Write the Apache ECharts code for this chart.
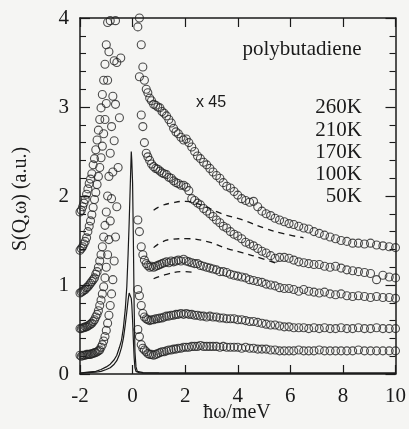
<!DOCTYPE html>
<html>
<head>
<meta charset="utf-8">
<script src="https://cdn.jsdelivr.net/npm/echarts@6/dist/echarts.min.js"></script>
<style>
html,body{margin:0;padding:0;background:#f5f5f3;}
#chart{width:409px;height:429px;}
</style>
</head>
<body>
<div id="chart"></div>
<script>
// energy transfer grids (meV)
var energyLoss = [-2.00,-1.95,-1.90,-1.85,-1.80,-1.75,-1.70,-1.65,-1.60,-1.55,-1.50,-1.45,-1.40,-1.35,-1.30,-1.25,-1.20,-1.15,-1.10,-1.05,-1.00,-0.95,-0.90,-0.85,-0.80,-0.75,-0.70,-0.65,-0.60,-0.55,-0.50,-0.45];
var energyGain = [0.20,0.26,0.33,0.39,0.45,0.52,0.58,0.65,0.72,0.80,0.88,0.96,1.04,1.12,1.20,1.29,1.38,1.47,1.56,1.65,1.74,1.84,1.94,2.04,2.14,2.25,2.36,2.47,2.58,2.70,2.82,2.94,3.06,3.19,3.32,3.45,3.58,3.72,3.86,4.00,4.15,4.30,4.45,4.60,4.76,4.92,5.08,5.25,5.42,5.59,5.77,5.95,6.13,6.32,6.51,6.70,6.90,7.10,7.30,7.51,7.72,7.93,8.15,8.37,8.59,8.82,9.05,9.28,9.52,9.76,10.00];

// S(Q,w) x45, negative-energy side
var t260Loss = [1.82,1.84,1.88,1.92,1.96,2.02,2.08,2.14,2.19,2.25,2.35,2.42,2.52,2.63,2.74,2.86,2.99,3.14,3.30,3.48,3.70,3.95,4.25,4.60,5.00,5.50,6.00,6.60,7.30,8.00,8.80,9.60];
var t210Loss = [1.39,1.41,1.43,1.46,1.49,1.53,1.60,1.66,1.72,1.79,1.87,1.96,2.04,2.13,2.22,2.32,2.43,2.56,2.70,2.86,3.04,3.30,3.62,3.97,4.40,4.90,5.40,6.00,6.60,7.30,8.00,8.80];
var t170Loss = [0.91,0.92,0.93,0.94,0.95,0.97,0.98,1.00,1.02,1.04,1.06,1.08,1.12,1.15,1.20,1.27,1.34,1.43,1.54,1.67,1.82,2.00,2.22,2.48,2.78,3.12,3.52,3.97,4.50,5.10,5.80,6.60];
var t100Loss = [0.51,0.51,0.52,0.52,0.53,0.53,0.54,0.55,0.56,0.57,0.59,0.61,0.64,0.67,0.71,0.77,0.83,0.90,0.98,1.08,1.20,1.34,1.51,1.72,1.97,2.27,2.62,3.03,3.50,4.05,4.70,5.40];
var t50Loss  = [0.21,0.20,0.21,0.21,0.21,0.22,0.22,0.22,0.22,0.23,0.23,0.24,0.24,0.25,0.26,0.27,0.30,0.33,0.37,0.42,0.49,0.57,0.66,0.77,0.90,1.06,1.27,1.54,1.88,2.32,2.88,3.55];

// S(Q,w) x45, positive-energy side
var t260Gain = [4.60,4.00,3.70,3.45,3.30, 3.20,3.16,3.10,3.07,3.03, 3.02,3.00,2.99,2.95,2.93, 2.90,2.86,2.82,2.76,2.72, 2.70,2.66,2.63,2.64,2.60, 2.55,2.50,2.45,2.42,2.38, 2.35,2.31,2.27,2.23,2.20, 2.15,2.11,2.09,2.05,2.01, 1.97,1.95,1.93,1.94,1.88, 1.83,1.80,1.78,1.75,1.73, 1.71,1.69,1.68,1.66,1.64, 1.63,1.60,1.58,1.56,1.54, 1.52,1.50,1.49,1.47,1.47, 1.46,1.47,1.45,1.44,1.43, 1.42];
var t210Gain = [3.90,3.34,2.91,2.78,2.60, 2.48,2.44,2.40,2.36,2.33, 2.31,2.30,2.28,2.26,2.25, 2.24,2.21,2.20,2.17,2.15, 2.14,2.12,2.12,2.10,2.06, 1.97,1.95,1.92,1.90,1.86, 1.83,1.80,1.77,1.73,1.70, 1.66,1.64,1.60,1.57,1.55, 1.52,1.48,1.46,1.44,1.41, 1.38,1.36,1.33,1.30,1.31, 1.31,1.30,1.28,1.26,1.25, 1.24,1.23,1.23,1.21,1.20, 1.21,1.19,1.17,1.16,1.15, 1.14,1.13,1.06,1.11,1.09, 1.08];
var t170Gain = [1.73,1.60,1.43,1.34,1.28, 1.24,1.22,1.20,1.21,1.20, 1.21,1.22,1.23,1.24,1.25, 1.26,1.25,1.27,1.26,1.27, 1.28,1.27,1.29,1.27,1.26, 1.25,1.24,1.24,1.22,1.21, 1.20,1.19,1.18,1.17,1.15, 1.15,1.14,1.12,1.11,1.10, 1.09,1.08,1.06,1.05,1.04, 1.03,1.01,1.00,0.99,0.97, 0.96,0.96,0.95,0.93,0.95, 0.93,0.92,0.91,0.92,0.90, 0.89,0.90,0.88,0.87,0.88, 0.87,0.86,0.87,0.86,0.86, 0.85];
var t100Gain = [0.95,0.88,0.77,0.68,0.64, 0.62,0.61,0.60,0.61,0.61, 0.62,0.62,0.63,0.63,0.64, 0.65,0.65,0.66,0.66,0.67, 0.67,0.68,0.67,0.68,0.67, 0.67,0.66,0.66,0.65,0.65, 0.64,0.65,0.64,0.64,0.63, 0.63,0.62,0.62,0.62,0.61, 0.61,0.60,0.59,0.59,0.58, 0.57,0.56,0.55,0.55,0.54, 0.53,0.53,0.52,0.52,0.52, 0.51,0.52,0.51,0.52,0.51, 0.51,0.52,0.51,0.51,0.52, 0.51,0.51,0.52,0.51,0.51, 0.51];
var t50Gain  = [0.50,0.42,0.33,0.29,0.27, 0.25,0.23,0.22,0.22,0.21, 0.22,0.23,0.24,0.25,0.25, 0.26,0.27,0.27,0.28,0.28, 0.29,0.29,0.30,0.30,0.30, 0.31,0.31,0.31,0.32,0.31, 0.31,0.31,0.31,0.31,0.30, 0.31,0.30,0.30,0.30,0.30, 0.29,0.30,0.29,0.29,0.28, 0.28,0.28,0.27,0.27,0.26, 0.26,0.26,0.26,0.27,0.26, 0.26,0.26,0.27,0.26,0.26, 0.26,0.26,0.26,0.26,0.27, 0.26,0.26,0.26,0.26,0.26, 0.26];

// resolution / elastic lines (unscaled)
var resX    = [-2.0,-1.7,-1.4,-1.2,-1.0,-0.85,-0.7,-0.6,-0.5,-0.42,-0.35,-0.28,-0.22,-0.17,-0.13,-0.1,-0.07,-0.05,-0.03,0.0,0.03,0.06,0.09,0.13,0.18,0.25,0.4,1,3,6,10];
var resTall = [0.01,0.02,0.03,0.05,0.08,0.11,0.16,0.21,0.30,0.38,0.52,0.72,0.98,1.35,1.70,2.00,2.30,2.50,2.40,2.15,1.50,0.75,0.25,0.08,0.03,0.02,0.015,0.012,0.01,0.01,0.01];
var resLow  = [0.01,0.015,0.02,0.03,0.05,0.07,0.11,0.15,0.22,0.30,0.40,0.55,0.70,0.83,0.91,0.93,0.90,0.85,0.78,0.60,0.38,0.18,0.07,0.03,0.02,0.015,0.01,0.01,0.01,0.01,0.01];

// dashed model curves
var dash1X = [0.8,1.1,1.46,2.0,2.6,3.4,4.2,5.0,5.7,6.5];
var dash1Y = [1.84,1.89,1.92,1.94,1.90,1.80,1.73,1.64,1.58,1.53];
var dash2X = [0.8,1.1,1.4,2.0,2.8,3.6,4.2,4.9,5.5];
var dash2Y = [1.42,1.48,1.51,1.52,1.49,1.41,1.36,1.30,1.24];
var dash3X = [0.8,1.3,1.9,2.4];
var dash3Y = [1.07,1.12,1.15,1.14];

var xTicks = [-2,0,2,4,6,8,10];
var yTicks = [0,1,2,3,4];
var tempLabels = ['260K','210K','170K','100K','50K'];

function pairs(xs, ys){ return xs.map(function(x,i){ return [x, ys[i]]; }); }

var serif = 'Liberation Serif';
var ink = '#1a1a1a';

function scatter(loss, gain){
  return {
    type:'scatter', xAxisIndex:0, yAxisIndex:0, clip:true, symbol:'circle', symbolSize:8,
    itemStyle:{color:'rgba(0,0,0,0)', borderColor:'#222', borderWidth:1.1},
    silent:true,
    data: pairs(energyLoss, loss).concat(pairs(energyGain, gain))
  };
}
function line(xs, ys, dashed){
  return {
    type:'line', xAxisIndex:0, yAxisIndex:0, showSymbol:false, symbol:'none', smooth: dashed ? true : false, silent:true, clip:true,
    lineStyle:{color: ink, width: dashed ? 1.3 : 1.2, type: dashed ? [6,5] : 'solid'},
    data: pairs(xs, ys)
  };
}

var axisLineStyle = {color: ink, width: 1.5};
var chart = echarts.init(document.getElementById('chart'), null, {renderer:'canvas'});
chart.setOption({
  backgroundColor:'#f5f5f3',
  animation:false,
  grid:{left:80, right:11, top:18, bottom:55, containLabel:false},
  xAxis:[
    {type:'value', position:'bottom', min:xTicks[0], max:xTicks[xTicks.length-1], interval:2,
     axisLine:{show:true, onZero:false, lineStyle:axisLineStyle},
     axisTick:{show:true, inside:true, length:9, lineStyle:{color:ink, width:1.2}},
     axisLabel:{color:ink, fontFamily:serif, fontSize:21, margin:12},
     splitLine:{show:false}},
    {type:'value', position:'top', min:xTicks[0], max:xTicks[xTicks.length-1], interval:2,
     axisLine:{show:true, onZero:false, lineStyle:axisLineStyle},
     axisTick:{show:true, inside:true, length:9, lineStyle:{color:ink, width:1.2}},
     axisLabel:{show:false}, splitLine:{show:false}}
  ],
  yAxis:[
    {type:'value', position:'left', min:yTicks[0], max:yTicks[yTicks.length-1], interval:1,
     axisLine:{show:true, onZero:false, lineStyle:axisLineStyle},
     axisTick:{show:true, inside:true, length:10, lineStyle:{color:ink, width:1.2}},
     minorTick:{show:true, splitNumber:5, length:6, lineStyle:{color:ink, width:1.1}},
     axisLabel:{color:ink, fontFamily:serif, fontSize:21, margin:11},
     splitLine:{show:false}, minorSplitLine:{show:false}},
    {type:'value', position:'right', min:yTicks[0], max:yTicks[yTicks.length-1], interval:1,
     axisLine:{show:true, onZero:false, lineStyle:axisLineStyle},
     axisTick:{show:true, inside:true, length:10, lineStyle:{color:ink, width:1.2}},
     minorTick:{show:true, splitNumber:5, length:6, lineStyle:{color:ink, width:1.1}},
     axisLabel:{show:false}, splitLine:{show:false}, minorSplitLine:{show:false}}
  ],
  series:[
    line(resX, resTall, false),
    line(resX, resLow, false),
    line(dash1X, dash1Y, true),
    line(dash2X, dash2Y, true),
    line(dash3X, dash3Y, true),
    scatter(t50Loss, t50Gain),
    scatter(t100Loss, t100Gain),
    scatter(t170Loss, t170Gain),
    scatter(t210Loss, t210Gain),
    scatter(t260Loss, t260Gain)
  ],
  graphic:[
    {type:'text', x:21, y:199, rotation:Math.PI/2,
     style:{text:'S(Q,\u03c9) (a.u.)', font:'20px "Liberation Serif"', fill:ink, textAlign:'center', textVerticalAlign:'middle'}},
    {type:'text', x:237, y:413,
     style:{text:'\u0127\u03c9/meV', font:'20px "Liberation Serif"', fill:ink, textAlign:'center', textVerticalAlign:'middle'}},
    {type:'text', x:302, y:49,
     style:{text:'polybutadiene', font:'21px "Liberation Serif"', fill:ink, textAlign:'center', textVerticalAlign:'middle'}},
    {type:'text', x:211, y:103,
     style:{text:'x 45', font:'16px "Liberation Sans"', fill:ink, textAlign:'center', textVerticalAlign:'middle'}},
    {type:'text', x:362, y:107, style:{text:tempLabels[0], font:'21px "Liberation Serif"', fill:ink, textAlign:'right', textVerticalAlign:'middle'}},
    {type:'text', x:362, y:130, style:{text:tempLabels[1], font:'21px "Liberation Serif"', fill:ink, textAlign:'right', textVerticalAlign:'middle'}},
    {type:'text', x:362, y:152, style:{text:tempLabels[2], font:'21px "Liberation Serif"', fill:ink, textAlign:'right', textVerticalAlign:'middle'}},
    {type:'text', x:362, y:174, style:{text:tempLabels[3], font:'21px "Liberation Serif"', fill:ink, textAlign:'right', textVerticalAlign:'middle'}},
    {type:'text', x:362, y:196, style:{text:tempLabels[4], font:'21px "Liberation Serif"', fill:ink, textAlign:'right', textVerticalAlign:'middle'}}
  ]
});
</script>
</body>
</html>
